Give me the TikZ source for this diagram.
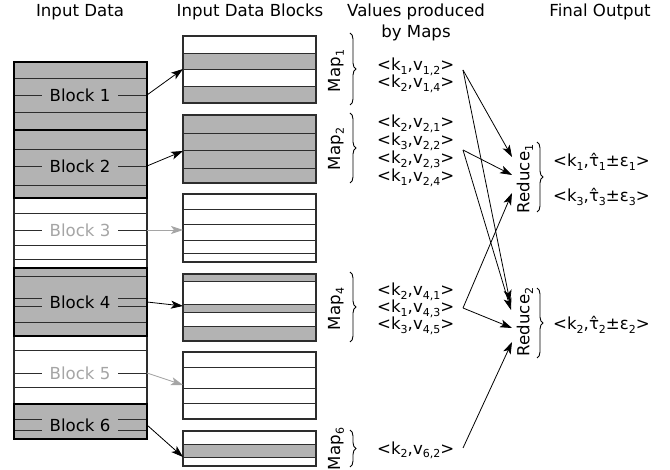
\documentclass[tikz,border=0pt]{standalone}
\usepackage{fontspec}
\setmainfont{DejaVu Sans}
\usetikzlibrary{arrows.meta,decorations.pathreplacing}
\newcommand{\sbx}[1]{\raisebox{-0.22em}{\fontsize{11pt}{11pt}\selectfont #1}}
\definecolor{cellgray}{RGB}{179,179,179}
\definecolor{lightlabel}{RGB}{165,165,165}
\definecolor{linegray}{RGB}{45,45,45}
\tikzset{
  rowline/.style={draw=linegray, line width=0.9pt},
  thickframe/.style={draw=black, line width=2pt},
  thinframe/.style={draw=linegray, line width=1.1pt},
  blkframe/.style={draw=linegray, line width=1.1pt},
  blklabel/.style={inner xsep=8pt, inner ysep=0.5pt, anchor=center},
  title/.style={anchor=base},
  val/.style={anchor=base west, inner sep=0pt},
  ar/.style={-{Stealth[length=12pt,width=8pt,inset=3pt]}, line width=0.8pt},
  grayar/.style={ar, draw=lightlabel, color=lightlabel},
  brc/.style={decorate, decoration={brace, amplitude=6pt}, line width=0.9pt},
  rot/.style={rotate=90, anchor=center, inner sep=0pt}
}
\begin{document}
\begin{tikzpicture}[x=1pt, y=-1pt, font=\fontsize{16.6pt}{21pt}\selectfont]
\useasboundingbox (0,0) rectangle (670,470);
% titles
\node[title] (t1) at (80,17) {Input Data};
\node[title] (t2) at (250,17) {Input Data Blocks};
\node[title] (t3a) at (416,17) {Values produced};
\node[title] (t3b) at (416,38) {by Maps};
\node[title] (t4) at (600,17) {Final Output};

% ---------- left column ----------
\fill[cellgray] (14,62) rectangle (147,198);
\fill[white] (14,198) rectangle (147,268);
\fill[cellgray] (14,268) rectangle (147,336);
\fill[white] (14,336) rectangle (147,404);
\fill[cellgray] (14,404) rectangle (147,439);
\foreach \y in {78,95,112,149,166,185,213,230,245,259,276,298,306,322,350,373,387,419,430}
  \draw[rowline] (14,\y) -- (147,\y);
\draw[thinframe] (14,198) rectangle (147,268);
\draw[thinframe] (14,336) rectangle (147,404);
\draw[thickframe] (14,62) rectangle (147,130);
\draw[thickframe] (14,130) rectangle (147,198);
\draw[thickframe] (14,268) rectangle (147,336);
\draw[thickframe] (14,404) rectangle (147,439);

\node[blklabel, fill=cellgray] (blk1) at (80,95) {Block 1};
\node[blklabel, fill=cellgray] (blk2) at (80,166) {Block 2};
\node[blklabel, fill=white, text=lightlabel] (blk3) at (80,230) {Block 3};
\node[blklabel, fill=cellgray] (blk4) at (80,302) {Block 4};
\node[blklabel, fill=white, text=lightlabel] (blk5) at (80,373) {Block 5};
\node[blklabel, fill=cellgray] (blk6) at (80,425) {Block 6};

% ---------- right column ----------
\foreach \a/\b/\c in {36/53/white,53/69/cellgray,69/86/white,86/103/cellgray,
  115/133/cellgray,133/150/cellgray,150/168/cellgray,168/183/cellgray,
  194/209/white,209/224/white,224/240/white,240/253/white,253/262/white,
  274/281/cellgray,281/304/white,304/312/cellgray,312/326/white,326/341/cellgray,
  352/367/white,367/388/white,388/403/white,403/419/white,
  431/444/white,444/457/cellgray,457/466/white}
  {\fill[\c] (183,\a) rectangle (316,\b);
   \draw[rowline] (183,\a) rectangle (316,\b);}
\draw[blkframe] (183,36) rectangle (316,103);
\draw[blkframe] (183,115) rectangle (316,183);
\draw[blkframe] (183,194) rectangle (316,262);
\draw[blkframe] (183,274) rectangle (316,341);
\draw[blkframe] (183,352) rectangle (316,419);
\draw[blkframe] (183,431) rectangle (316,466);

% connectors left -> right
\coordinate (o1) at (147,95);   \coordinate (i1) at (183,69);
\coordinate (o2) at (147,166);  \coordinate (i2) at (183,151);
\coordinate (o3) at (147,230);  \coordinate (i3) at (183,230);
\coordinate (o4) at (147,302);  \coordinate (i4) at (183,306);
\coordinate (o5) at (147,373);  \coordinate (i5) at (183,385);
\coordinate (o6) at (147,425);  \coordinate (i6) at (183,457);
\draw[ar] (o1) -- (i1);
\draw[ar] (o2) -- (i2);
\draw[grayar] (o3) -- (i3);
\draw[ar] (o4) -- (i4);
\draw[grayar] (o5) -- (i5);
\draw[ar] (o6) -- (i6);

% ---------- maps ----------
\node[rot] (map1) at (336,71) {Map\sbx{1}};
\node[rot] (map2) at (336,149) {Map\sbx{2}};
\node[rot] (map4) at (336,309) {Map\sbx{4}};
\node[rot] (map6) at (336,449) {Map\sbx{6}};
\coordinate (b1t) at (350,33);  \coordinate (b1b) at (350,105);
\coordinate (b2t) at (350,113); \coordinate (b2b) at (350,183);
\coordinate (b4t) at (350,272); \coordinate (b4b) at (350,342);
\coordinate (b6t) at (350,430); \coordinate (b6b) at (350,467);
\draw[brc] (b1t) -- (b1b);
\draw[brc] (b2t) -- (b2b);
\draw[brc] (b4t) -- (b4b);
\draw[brc] (b6t) -- (b6b);

\node[val] (v12) at (377,71) {<k\sbx{1},v\sbx{1,2}>};
\node[val] (v14) at (377,88) {<k\sbx{2},v\sbx{1,4}>};
\node[val] (v21) at (377,128) {<k\sbx{2},v\sbx{2,1}>};
\node[val] (v22) at (377,146) {<k\sbx{3},v\sbx{2,2}>};
\node[val] (v23) at (377,164) {<k\sbx{2},v\sbx{2,3}>};
\node[val] (v24) at (377,182) {<k\sbx{1},v\sbx{2,4}>};
\node[val] (v41) at (377,296) {<k\sbx{2},v\sbx{4,1}>};
\node[val] (v43) at (377,313) {<k\sbx{1},v\sbx{4,3}>};
\node[val] (v45) at (377,330) {<k\sbx{3},v\sbx{4,5}>};
\node[val] (v62) at (377,454) {<k\sbx{2},v\sbx{6,2}>};

% ---------- reduces ----------
\node[rot] (red1) at (525,179) {Reduce\sbx{1}};
\node[rot] (red2) at (525,322) {Reduce\sbx{2}};
\coordinate (c1t) at (537,142); \coordinate (c1b) at (537,212);
\coordinate (c2t) at (537,288); \coordinate (c2b) at (537,358);
\draw[brc] (c1t) -- (c1b);
\draw[brc] (c2t) -- (c2b);

\node[val] (f1) at (553,167) {<k\sbx{1},τ̂\sbx{1}±ε\sbx{1}>};
\node[val] (f3) at (553,202) {<k\sbx{3},τ̂\sbx{3}±ε\sbx{3}>};
\node[val] (f2) at (553,330) {<k\sbx{2},τ̂\sbx{2}±ε\sbx{2}>};

% connectors map -> reduce
\coordinate (m1) at (463,70);
\coordinate (m2) at (463,150);
\coordinate (m4) at (463,308);
\coordinate (m6) at (463,448);
\coordinate (r1a) at (512,157);
\coordinate (r1b) at (512,175);
\coordinate (r1c) at (512,193);
\coordinate (r2a) at (510,302);
\coordinate (r2b) at (511,310);
\coordinate (r2c) at (512,328);
\coordinate (r2d) at (512,342);
\draw[ar] (m1) -- (r1a);
\draw[ar] (m1) -- (r2a);
\draw[ar] (m2) -- (r1b);
\draw[ar] (m2) -- (r2b);
\draw[ar] (m4) -- (r1c);
\draw[ar] (m4) -- (r2c);
\draw[ar] (m6) -- (r2d);
\end{tikzpicture}
\end{document}
